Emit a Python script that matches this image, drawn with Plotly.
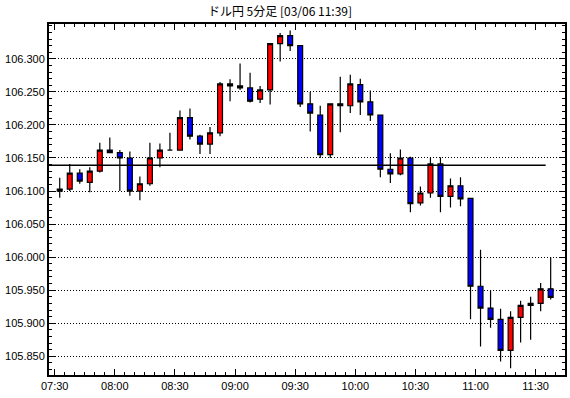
import plotly.graph_objects as go

# ---- data ----
day = "2020-03-06"
times = ["07:30", "07:35", "07:40", "07:45", "07:50", "07:55",
         "08:00", "08:05", "08:10", "08:15", "08:20", "08:25",
         "08:30", "08:35", "08:40", "08:45", "08:50", "08:55",
         "09:00", "09:05", "09:10", "09:15", "09:20", "09:25",
         "09:30", "09:35", "09:40", "09:45", "09:50", "09:55",
         "10:00", "10:05", "10:10", "10:15", "10:20", "10:25",
         "10:30", "10:35", "10:40", "10:45", "10:50", "10:55",
         "11:00", "11:05", "11:10", "11:15", "11:20", "11:25",
         "11:30", "11:35"]
opens = [106.100, 106.103, 106.127, 106.113, 106.130, 106.162, 106.158, 106.150, 106.100, 106.111,
         106.150, 106.162, 106.162, 106.211, 106.183, 106.171, 106.188, 106.262, 106.259, 106.256,
         106.239, 106.253, 106.323, 106.335, 106.320, 106.232, 106.215, 106.155, 106.232, 106.229,
         106.261, 106.235, 106.215, 106.133, 106.126, 106.150, 106.082, 106.097, 106.141, 106.092,
         106.108, 106.089, 105.956, 105.923, 105.906, 105.859, 105.909, 105.927, 105.930, 105.952]
highs = [106.120, 106.141, 106.133, 106.136, 106.173, 106.181, 106.162, 106.160, 106.122, 106.173,
         106.172, 106.188, 106.222, 106.225, 106.185, 106.197, 106.265, 106.269, 106.293, 106.279,
         106.259, 106.324, 106.339, 106.343, 106.320, 106.250, 106.229, 106.232, 106.273, 106.276,
         106.270, 106.252, 106.215, 106.157, 106.163, 106.152, 106.107, 106.150, 106.151, 106.119,
         106.121, 106.089, 106.011, 105.950, 105.922, 105.918, 105.934, 105.940, 105.961, 106.000]
lows = [106.090, 106.100, 106.111, 106.098, 106.128, 106.157, 106.100, 106.093, 106.086, 106.108,
        106.136, 106.162, 106.162, 106.178, 106.156, 106.156, 106.183, 106.236, 106.253, 106.234,
        106.233, 106.231, 106.296, 106.312, 106.227, 106.190, 106.150, 106.150, 106.189, 106.218,
        106.215, 106.206, 106.121, 106.112, 106.124, 106.068, 106.078, 106.090, 106.068, 106.075,
        106.077, 105.906, 105.865, 105.893, 105.842, 105.832, 105.871, 105.875, 105.918, 105.936]
closes = [106.103, 106.127, 106.115, 106.130, 106.162, 106.158, 106.150, 106.100, 106.111, 106.150,
          106.162, 106.162, 106.211, 106.183, 106.171, 106.188, 106.262, 106.259, 106.256, 106.236,
          106.253, 106.323, 106.335, 106.320, 106.232, 106.218, 106.155, 106.232, 106.229, 106.262,
          106.235, 106.215, 106.133, 106.126, 106.150, 106.081, 106.097, 106.141, 106.092, 106.108,
          106.088, 105.956, 105.923, 105.906, 105.859, 105.909, 105.927, 105.930, 105.952, 105.939]
ref_level = 106.139
y_tick_vals = [105.85, 105.90, 105.95, 106.00, 106.05, 106.10, 106.15, 106.20, 106.25, 106.30]
title_text = "ドル円 5分足 [03/06 11:39]"

x = [f"{day} {t}:00" for t in times]
x_range = [f"{day} 07:27:09", f"{day} 11:44:39"]
y_range = [105.8217, 106.3527]

fig = go.Figure()
fig.add_trace(go.Candlestick(
    x=x, open=opens, high=highs, low=lows, close=closes,
    xperiod=300000, xperiodalignment="middle",
    increasing=dict(fillcolor="#FF0000", line=dict(color="#000000", width=1.2)),
    decreasing=dict(fillcolor="#0000FF", line=dict(color="#000000", width=1.2)),
    whiskerwidth=0, showlegend=False, hoverinfo="skip",
))
fig.add_trace(go.Scatter(
    x=[x_range[0], x[-1]], y=[ref_level, ref_level], mode="lines",
    line=dict(color="#000000", width=1.3), showlegend=False, hoverinfo="skip",
))

font = dict(family="Liberation Sans, Arial, sans-serif", size=11, color="#000000")
fig.update_layout(
    width=570, height=398,
    margin=dict(l=49, r=5, t=24, b=23),
    paper_bgcolor="#FFFFFF", plot_bgcolor="#FFFFFF",
    boxgap=0.3,
    title=dict(text=title_text, x=280 / 570, xref="container", xanchor="center",
               y=1 - 12 / 398, yref="container", yanchor="middle",
               font=dict(family="Noto Sans CJK JP", size=12, color="#000000")),
    font=font,
)
fig.update_xaxes(
    type="date", range=x_range, rangeslider=dict(visible=False),
    tickmode="linear", tick0=f"{day} 07:30", dtick=1800000, tickformat="%H:%M",
    ticks="inside", ticklen=6, tickwidth=1, tickcolor="#000000",
    minor=dict(ticks="inside", ticklen=3, tickwidth=1, tickcolor="#000000",
               tickmode="linear", tick0=f"{day} 07:30", dtick=300000, showgrid=False),
    showline=True, linecolor="#000000", linewidth=2, mirror="ticks",
    showgrid=False, zeroline=False, tickfont=font, automargin=False,
)
fig.update_yaxes(
    range=y_range, tickmode="array", tickvals=y_tick_vals,
    ticktext=[f"{v:.3f}" for v in y_tick_vals],
    ticks="inside", ticklen=6, tickwidth=1, tickcolor="#000000",
    minor=dict(ticks="inside", ticklen=3, tickwidth=1, tickcolor="#000000",
               tickmode="linear", tick0=105.80, dtick=0.01, showgrid=False),
    showline=True, linecolor="#000000", linewidth=2, mirror="ticks",
    showgrid=True, gridcolor="#000000", gridwidth=1, griddash="1px,2px",
    zeroline=False, tickfont=font, automargin=False,
)
fig.write_html("out.html", config={"displayModeBar": False},
               post_script="document.body.style.margin='0';")
